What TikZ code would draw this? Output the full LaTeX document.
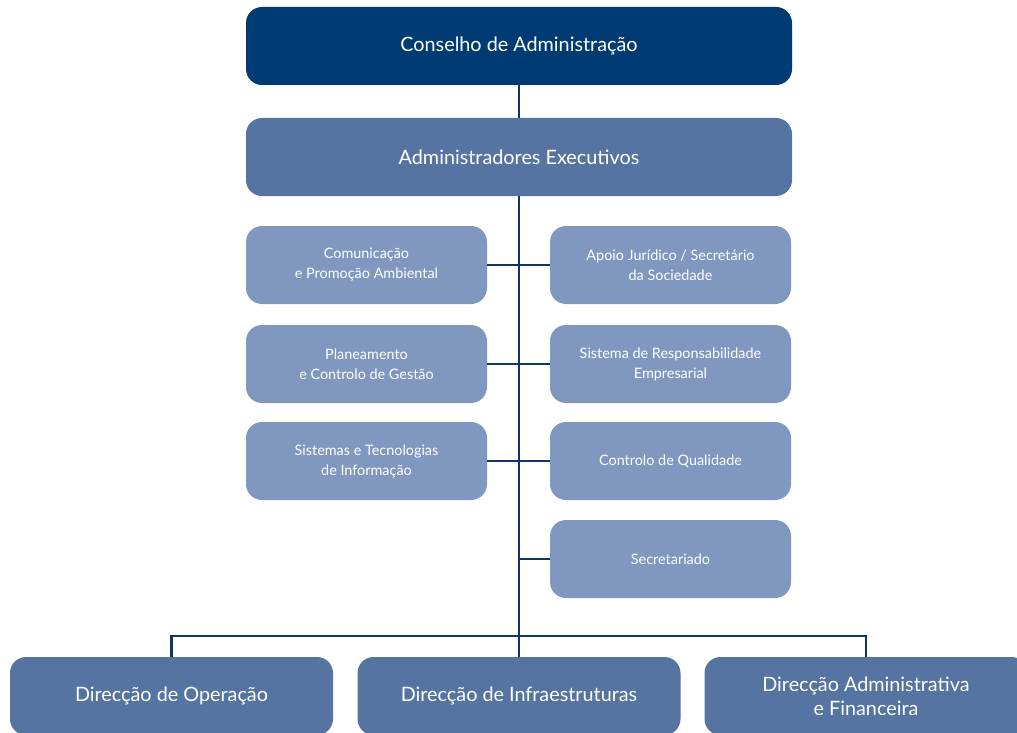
\documentclass[tikz,border=0pt]{standalone}
\usepackage{fontspec}
\setmainfont{Lato}
\definecolor{navy}{RGB}{0,60,115}
\definecolor{midblue}{RGB}{86,116,161}
\definecolor{lightblue}{RGB}{128,152,192}
\definecolor{linec}{RGB}{15,55,95}
\begin{document}
\begin{tikzpicture}[x=1pt,y=-1pt,
  box/.style={rounded corners=16pt,text=white,align=center,inner sep=0pt},
  topbox/.style={box,fill=navy,minimum width=546pt,minimum height=78pt,font=\fontsize{19.8}{23}\selectfont},
  execbox/.style={box,fill=midblue,minimum width=546pt,minimum height=78pt,font=\fontsize{19.8}{23}\selectfont},
  sidebox/.style={box,fill=lightblue,minimum width=241pt,minimum height=78pt,font=\fontsize{14.4}{20}\selectfont},
  dirbox/.style={box,fill=midblue,minimum width=323pt,minimum height=78pt,font=\fontsize{19.8}{24}\selectfont},
  conn/.style={draw=linec,line width=2.7pt}]
\useasboundingbox (0,0) rectangle (1017,733);
\clip (0,0) rectangle (1017,733);
\node[topbox] (ca) at (519,46) {Conselho de Administração};
\node[execbox] (ae) at (519,157) {Administradores Executivos};
\node[sidebox] (l1) at (366.5,265) {Comunicação\\e Promoção Ambiental};
\node[sidebox] (l2) at (366.5,364) {Planeamento\\e Controlo de Gestão};
\node[sidebox] (l3) at (366.5,461) {Sistemas e Tecnologias\\de Informação};
\node[sidebox] (r1) at (670.5,265) {Apoio Jurídico / Secretário\\da Sociedade};
\node[sidebox] (r2) at (670.5,364) {Sistema de Responsabilidade\\Empresarial};
\node[sidebox] (r3) at (670.5,461) {Controlo de Qualidade};
\node[sidebox] (r4) at (670.5,559) {Secretariado};
\node[dirbox] (d1) at (171.5,696) {Direcção de Operação};
\node[dirbox] (d2) at (519,696) {Direcção de Infraestruturas};
\node[dirbox] (d3) at (866,696) {Direcção Administrativa\\e Financeira};
\coordinate (bus) at (519,636);
\draw[conn] (ca.south) -- (ae.north);
\draw[conn] (ae.south) -- (bus) -- (d2.north);
\draw[conn] (l1.east) -- (r1.west);
\draw[conn] (l2.east) -- (r2.west);
\draw[conn] (l3.east) -- (r3.west);
\draw[conn] (r4.west) -- (r4.west -| bus);
\draw[conn] (d1.north) |- (bus) -| (d3.north);
\end{tikzpicture}
\end{document}
